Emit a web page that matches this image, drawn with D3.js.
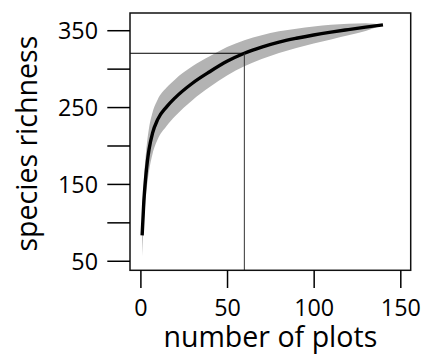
<!DOCTYPE html>
<html>
<head>
<meta charset="utf-8">
<script src="https://cdn.jsdelivr.net/npm/d3@7"></script>
<style>
  html, body { margin: 0; padding: 0; background: #fff; }
  svg { display: block; }
  text { font-family: "Open Sans", "Noto Sans", sans-serif; fill: #000; }
</style>
</head>
<body>
<svg id="chart" width="426" height="354"></svg>
<script>
// Species accumulation curve: mean richness with a +/- spread band
const plots    = [1, 2, 3, 4, 5, 7, 10, 15, 20, 30, 40, 50, 60, 70, 80, 90, 100, 110, 120, 130, 140];
const richness = [83, 128, 157, 179, 195, 216, 234, 250, 262, 281, 296, 309.5, 320, 328, 334.5, 339.5, 343.8, 347.5, 350.8, 354, 357];
const spread   = [27, 28, 28, 28, 28, 27, 26, 25, 24, 22, 20, 18.5, 17, 15.5, 14, 12.5, 11, 9.5, 7.5, 5, 0];

const xTicks = [0, 50, 100, 150];
const yTicks = [50, 100, 150, 200, 250, 300, 350];
const yLabelled = [50, 150, 250, 350];

// reference lines: richness reached at 60 plots
const refPlots = 60;
const refRichness = 320;

const xTitle = "number of plots";
const yTitle = "species richness";

const svg = d3.select("#chart");
const panel = { left: 130, right: 410.7, top: 13, bottom: 270.3 };

const x = d3.scaleLinear().domain([-6, 156]).range([panel.left, panel.right]);
const y = d3.scaleLinear().domain([37.6, 372.4]).range([panel.bottom, panel.top]);

const font = "\"Open Sans\", \"Noto Sans\", sans-serif";

// size a font so a string spans the given width
function fitSize(str, width) {
  const t = svg.append("text").attr("font-size", 100).text(str);
  const w = t.node().getComputedTextLength();
  t.remove();
  return 100 * width / w;
}
const tickSize = fitSize("100", 40);
const titleSize = fitSize(xTitle, 214);

const data = plots.map((p, i) => ({ p, m: richness[i], s: spread[i] }));

// band
const area = d3.area()
  .x(d => x(d.p))
  .y0(d => y(d.m - d.s))
  .y1(d => y(d.m + d.s))
  .curve(d3.curveMonotoneX);
svg.append("path").datum(data)
  .attr("d", area)
  .attr("fill", "#b3b3b3");

// mean curve
const line = d3.line()
  .x(d => x(d.p))
  .y(d => y(d.m))
  .curve(d3.curveMonotoneX);
svg.append("path").datum(data)
  .attr("d", line)
  .attr("fill", "none")
  .attr("stroke", "#000")
  .attr("stroke-width", 3.4)
  .attr("stroke-linecap", "butt");

// reference lines
svg.append("line")
  .attr("x1", x(refPlots)).attr("x2", x(refPlots))
  .attr("y1", panel.bottom).attr("y2", y(refRichness))
  .attr("stroke", "#333").attr("stroke-width", 1);
svg.append("line")
  .attr("x1", panel.left).attr("x2", x(refPlots))
  .attr("y1", y(refRichness)).attr("y2", y(refRichness))
  .attr("stroke", "#000").attr("stroke-width", 1);

// panel frame
svg.append("rect")
  .attr("x", panel.left).attr("y", panel.top)
  .attr("width", panel.right - panel.left)
  .attr("height", panel.bottom - panel.top)
  .attr("fill", "none").attr("stroke", "#111").attr("stroke-width", 1.5);

// x axis
const xAxis = d3.axisBottom(x).tickValues(xTicks).tickSize(17.7).tickPadding(9).tickFormat(d3.format("d"));
const gx = svg.append("g").attr("transform", `translate(0,${panel.bottom})`).call(xAxis);
gx.select(".domain").remove();
gx.selectAll(".tick line").attr("stroke", "#000").attr("stroke-width", 1.5);
gx.selectAll(".tick text")
  .attr("font-family", font).attr("font-size", tickSize).attr("fill", "#000")
  .attr("dy", null).attr("y", 45.5);

// y axis
const yAxis = d3.axisLeft(y).tickValues(yTicks).tickSize(22.7).tickPadding(9)
  .tickFormat(d => yLabelled.includes(d) ? d : "");
const gy = svg.append("g").attr("transform", `translate(${panel.left},0)`).call(yAxis);
gy.select(".domain").remove();
gy.selectAll(".tick line").attr("stroke", "#000").attr("stroke-width", 1.5);
gy.selectAll(".tick text")
  .attr("font-family", font).attr("font-size", tickSize).attr("fill", "#000")
  .attr("x", -32).attr("dy", "0.357em");

// axis titles
svg.append("text")
  .attr("x", (panel.left + panel.right) / 2).attr("y", 347)
  .attr("text-anchor", "middle")
  .attr("font-size", titleSize)
  .text(xTitle);
svg.append("text")
  .attr("transform", `translate(37,${(panel.top + panel.bottom) / 2 + 2}) rotate(-90)`)
  .attr("text-anchor", "middle")
  .attr("font-size", titleSize)
  .text(yTitle);
</script>
</body>
</html>
